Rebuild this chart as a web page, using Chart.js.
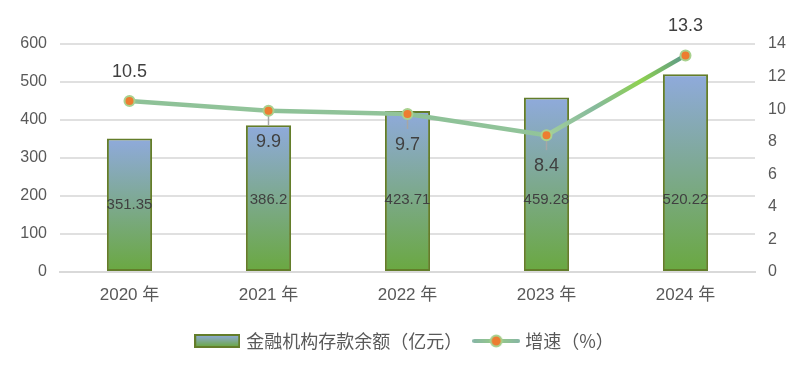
<!DOCTYPE html>
<html><head><meta charset="utf-8">
<script src="https://cdn.jsdelivr.net/npm/chart.js@4.4.1/dist/chart.umd.min.js"></script>
<style>html,body{margin:0;padding:0;background:#fff}#wrap{width:811px;height:369px}</style>
</head><body><div id="wrap"><canvas id="c" width="811" height="369"></canvas></div>
<script>
const categories = ['2020 年', '2021 年', '2022 年', '2023 年', '2024 年'];
const deposits = [351.35, 386.2, 423.71, 459.28, 520.22];
const growth = [10.5, 9.9, 9.7, 8.4, 13.3];
const growthLabelSide = ['above', 'below', 'below', 'below', 'above'];
const leftMax = 600, leftStep = 100;
const rightMax = 14, rightStep = 2;
const seriesNames = ['金融机构存款余额（亿元）', '增速（%）'];

const FONT = "'Liberation Sans', 'Noto Sans CJK SC', sans-serif";
const CJK = "'Noto Sans CJK SC', 'Liberation Sans', sans-serif";
const TICK = '#595959', LABEL = '#404040';

function barFill(ctx) {
  const chart = ctx.chart;
  if (!chart.chartArea || ctx.type !== 'data') return '#8FAADC';
  const ys = chart.scales.y;
  const top = ys.getPixelForValue(ctx.raw), base = ys.getPixelForValue(0);
  const g = chart.ctx.createLinearGradient(0, top, 0, base);
  g.addColorStop(0, '#8FAADC');
  g.addColorStop(1, '#6AA840');
  return g;
}
function segColor(sc) {
  const c = sc.chart ? sc.chart.ctx : document.getElementById('c').getContext('2d');
  const g = c.createLinearGradient(sc.p0.x, sc.p0.y, sc.p1.x, sc.p1.y);
  if (sc.p1DataIndex === growth.length - 1) {
    g.addColorStop(0, '#A2CF9C');
    g.addColorStop(0.35, '#86BA9C');
    g.addColorStop(0.68, '#8ED14E');
    g.addColorStop(1, '#5B978C');
  } else {
    g.addColorStop(0, '#8DC197');
    g.addColorStop(1, '#92C49A');
  }
  return g;
}
function makeBarSwatch() {
  const cv = document.createElement('canvas'); cv.width = 46; cv.height = 14;
  const x = cv.getContext('2d');
  const g = x.createLinearGradient(0, 1, 0, 13);
  g.addColorStop(0, '#8FAADC'); g.addColorStop(1, '#6AA840');
  x.fillStyle = g; x.fillRect(1, 1, 44, 12);
  x.strokeStyle = '#637D2A'; x.lineWidth = 2; x.strokeRect(1, 1, 44, 12);
  return cv;
}
function makeLineSwatch() {
  const cv = document.createElement('canvas'); cv.width = 48; cv.height = 16;
  const x = cv.getContext('2d');
  const g = x.createLinearGradient(0, 0, 48, 0);
  g.addColorStop(0, '#86B5A6'); g.addColorStop(0.5, '#97CC86'); g.addColorStop(1, '#86B5A6');
  x.strokeStyle = g; x.lineWidth = 4; x.lineCap = 'round';
  x.beginPath(); x.moveTo(2, 8); x.lineTo(46, 8); x.stroke();
  x.beginPath(); x.arc(24, 8, 5.5, 0, Math.PI * 2);
  x.fillStyle = '#ED7D31'; x.fill();
  x.lineWidth = 2; x.strokeStyle = '#A9D18E'; x.stroke();
  return cv;
}
const swatches = [makeBarSwatch(), makeLineSwatch()];

const labelPlugin = {
  id: 'labels',
  afterDatasetDraw(chart, args) {
    const c = chart.ctx;
    if (args.index === 0) {
      const lm = chart.getDatasetMeta(1);
      c.save();
      c.strokeStyle = '#A6A6A6'; c.lineWidth = 1.5;
      lm.data.forEach((p, i) => {
        if (growthLabelSide[i] !== 'below') return;
        c.beginPath(); c.moveTo(p.x, p.y); c.lineTo(p.x, p.y + 15); c.stroke();
      });
      c.restore();
    }
  },
  afterDatasetsDraw(chart) {
    const c = chart.ctx;
    const bm = chart.getDatasetMeta(0), lm = chart.getDatasetMeta(1);
    const ys = chart.scales.y;
    c.save();
    c.textAlign = 'center'; c.textBaseline = 'middle';
    c.fillStyle = LABEL;
    c.font = '15px ' + FONT;
    bm.data.forEach((b, i) => {
      const mid = Math.max((b.y + b.base) / 2, ys.getPixelForValue(190));
      c.fillText(String(deposits[i]), b.x, mid);
    });
    c.font = '18px ' + FONT;
    lm.data.forEach((p, i) => {
      const y = growthLabelSide[i] === 'above' ? p.y - 29 : p.y + 31;
      c.fillText(growth[i].toFixed(1), p.x, y);
    });
    c.restore();
  }
};

new Chart(document.getElementById('c'), {
  data: {
    labels: categories,
    datasets: [
      {
        type: 'bar', label: seriesNames[0], data: deposits, yAxisID: 'y', order: 1,
        backgroundColor: barFill, borderColor: '#637D2A', borderWidth: 2, borderSkipped: false,
        barPercentage: 0.325, categoryPercentage: 1
      },
      {
        type: 'line', label: seriesNames[1], data: growth, yAxisID: 'y1', order: 0,
        borderColor: '#8DC197', borderWidth: 4.5, tension: 0,
        segment: { borderColor: segColor },
        pointRadius: 5, pointBorderWidth: 2,
        pointBackgroundColor: '#ED7D31', pointBorderColor: '#A9D18E'
      }
    ]
  },
  options: {
    responsive: false, animation: false,
    layout: { padding: { top: 44, bottom: 9, left: 0, right: 0 } },
    plugins: {
      tooltip: { enabled: false },
      legend: {
        position: 'bottom',
        labels: {
          usePointStyle: true, pointStyleWidth: 40, padding: 14,
          color: TICK, font: { size: 18, family: CJK },
          generateLabels: () => seriesNames.map((t, i) => ({
            text: t, pointStyle: swatches[i], fontColor: TICK, datasetIndex: i,
            lineWidth: 0, strokeStyle: 'transparent', fillStyle: 'transparent', hidden: false
          }))
        }
      }
    },
    scales: {
      x: {
        grid: { display: false },
        border: { display: true, color: '#D9D9D9', width: 2 },
        ticks: { color: TICK, font: { size: 17, family: FONT }, padding: 5 },
        afterFit: s => { s.height = 46; }
      },
      y: {
        position: 'left', min: 0, max: leftMax,
        ticks: { stepSize: leftStep, color: TICK, font: { size: 16, family: FONT }, padding: 13 },
        grid: { color: '#E0E0E0', lineWidth: 2, drawTicks: false },
        border: { display: false },
        afterFit: s => { s.width = 60; }
      },
      y1: {
        position: 'right', min: 0, max: rightMax,
        ticks: { stepSize: rightStep, color: TICK, font: { size: 16, family: FONT }, padding: 13 },
        grid: { display: false, drawTicks: false },
        border: { display: false },
        afterFit: s => { s.width = 56; }
      }
    }
  },
  plugins: [labelPlugin]
});
</script></body></html>
